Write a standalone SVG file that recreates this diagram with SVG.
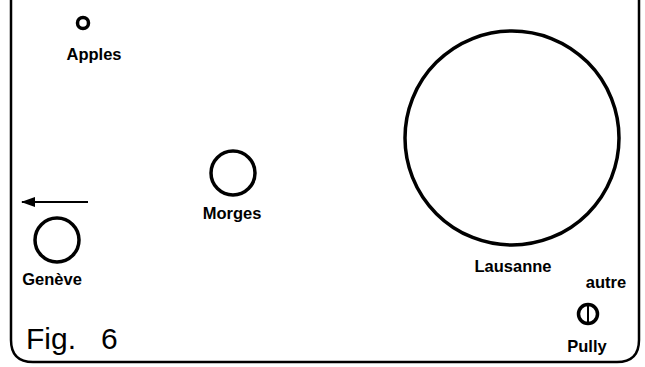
<svg xmlns="http://www.w3.org/2000/svg" width="645" height="367" viewBox="0 0 645 367">
<style>
.c{fill:none;stroke:#000;stroke-width:3.5}
.l{font-family:"Liberation Sans",Arial,sans-serif;font-weight:bold;font-size:16.5px;fill:#000;text-anchor:middle}
.f{font-family:"Liberation Sans",Arial,sans-serif;font-size:30px;fill:#000}
</style>
<defs><marker id="ah" markerWidth="14" markerHeight="10" refX="13" refY="5" orient="auto" markerUnits="userSpaceOnUse"><path d="M0,0 L14,5 L0,10 Z" fill="#000"/></marker></defs>
<rect width="645" height="367" fill="#fff"/>
<path d="M11,-5 V340 Q11,362 33,362 H617 Q639,362 639,340 V-5" fill="none" stroke="#000" stroke-width="2.5"/>
<g id="apples"><circle class="c" cx="83" cy="23" r="5.5" stroke-width="3.2"/><text class="l" x="94" y="60">Apples</text></g>
<g id="morges"><circle class="c" cx="233" cy="173" r="22"/><text class="l" x="232" y="219">Morges</text></g>
<g id="geneve"><circle class="c" cx="57" cy="240" r="22"/><text class="l" x="52" y="285">Genève</text></g>
<g id="lausanne"><circle class="c" cx="512" cy="138" r="107"/><text class="l" x="513" y="272">Lausanne</text></g>
<g id="pully"><circle class="c" cx="588" cy="314" r="9.5" stroke-width="4"/><line x1="588" y1="304" x2="588" y2="324" stroke="#000" stroke-width="2"/><text class="l" x="587" y="352">Pully</text></g>
<g id="autre"><text class="l" x="606" y="288">autre</text></g>
<g id="connectors"><line x1="88" y1="202" x2="22" y2="202" stroke="#000" stroke-width="2" marker-end="url(#ah)"/></g>
<text class="f" x="26" y="349">Fig.</text><text class="f" x="101" y="349">6</text>
</svg>
